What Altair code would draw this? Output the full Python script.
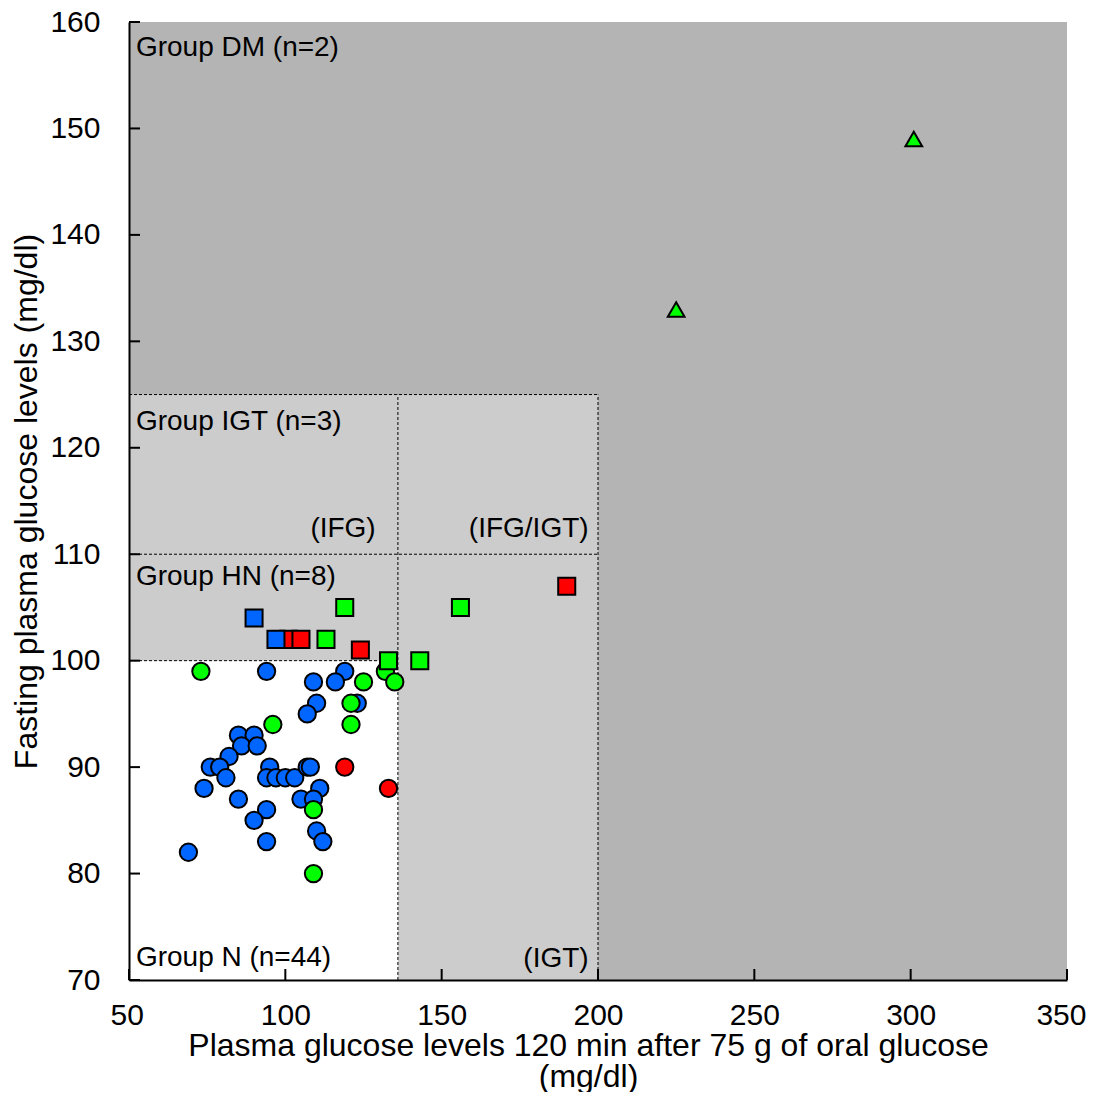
import altair as alt
import pandas as pd

# ---------------- data ----------------
# Group N (circles)
blue_circle_x = [94, 85, 90, 86, 91, 82, 76, 79, 81, 74, 85, 94, 90, 94, 69, 95, 94, 97, 100, 103,
                 107, 108, 111, 105, 109, 110, 112, 119, 109, 116, 110, 107, 123]
blue_circle_y = [99, 93, 93, 92, 92, 91, 90, 90, 89, 88, 87, 86, 85, 83, 82, 90, 89, 89, 89, 89,
                 90, 90, 88, 87, 87, 84, 83, 99, 98, 98, 96, 95, 96]
red_circle_x = [119, 133]
red_circle_y = [90, 88]
green_circle_x = [73, 96, 125, 121, 121, 132, 135, 109, 109]
green_circle_y = [99, 94, 98, 96, 94, 99, 98, 86, 80]

# Groups HN / IGT (squares)
square_x = [101, 90, 97, 105, 113, 119, 124, 133, 143, 156, 190]
square_y = [102, 104, 102, 102, 102, 105, 101, 100, 100, 105, 107]
square_c = ["red", "blue", "blue", "red", "green", "green", "red", "green", "green", "green", "red"]

# Group DM (triangles)
tri_x = [225, 301]
tri_y = [133, 149]
tri_c = ["green", "green"]

# background regions
region_x = [50, 50, 50]
region_x2 = [350, 200, 136]
region_y = [70, 70, 70]
region_y2 = [160, 125, 100]
region_name = ["dm", "igt", "n"]

# dashed boundaries
seg_x = [50, 50, 50, 136, 200]
seg_x2 = [200, 200, 136, 136, 200]
seg_y = [125, 110, 100, 70, 70]
seg_y2 = [125, 110, 100, 125, 125]

# region labels
left_labels = ["Group DM (n=2)", "Group IGT (n=3)", "Group HN (n=8)", "Group N (n=44)"]
left_label_x = [52.2, 52.2, 52.2, 52.2]
left_label_y = [157.6, 122.4, 107.9, 72.1]
right_labels = ["(IFG)", "(IFG/IGT)", "(IGT)"]
right_label_x = [128.9, 197.0, 197.0]
right_label_y = [112.4, 112.4, 72.0]

x_ticks = [50, 100, 150, 200, 250, 300, 350]
y_ticks = [70, 80, 90, 100, 110, 120, 130, 140, 150, 160]

# ---------------- layout ----------------
FONT = "Liberation Sans"
W, H = 938, 958
X_DOM = [50, 350]
Y_DOM = [70, 160]
TICK_PX = 11  # inward tick length in pixels

# ---------------- tables ----------------
pts = pd.concat([
    pd.DataFrame({"x": blue_circle_x, "y": blue_circle_y, "c": "blue", "s": "circle"}),
    pd.DataFrame({"x": red_circle_x, "y": red_circle_y, "c": "red", "s": "circle"}),
    pd.DataFrame({"x": green_circle_x, "y": green_circle_y, "c": "green", "s": "circle"}),
    pd.DataFrame({"x": square_x, "y": square_y, "c": square_c, "s": "square"}),
    pd.DataFrame({"x": tri_x, "y": tri_y, "c": tri_c, "s": "triangle"}),
], ignore_index=True)
pts["o"] = range(len(pts))

regions = pd.DataFrame({"x": region_x, "x2": region_x2, "y": region_y, "y2": region_y2, "r": region_name})
segs = pd.DataFrame({"x": seg_x, "x2": seg_x2, "y": seg_y, "y2": seg_y2})
llab = pd.DataFrame({"x": left_label_x, "y": left_label_y, "t": left_labels})
rlab = pd.DataFrame({"x": right_label_x, "y": right_label_y, "t": right_labels})

# tick segments: start on the axis, run inward by TICK_PX pixels (converted to data units)
x_tick_len = TICK_PX * (X_DOM[1] - X_DOM[0]) / W
y_tick_len = TICK_PX * (Y_DOM[1] - Y_DOM[0]) / H
yt = pd.DataFrame({"x": X_DOM[0], "x2": X_DOM[0] + x_tick_len, "y": y_ticks, "y2": y_ticks})
xt = pd.DataFrame({"x": x_ticks, "x2": x_ticks, "y": Y_DOM[0], "y2": Y_DOM[0] + y_tick_len})
ticks = pd.concat([yt, xt], ignore_index=True)

xs = alt.Scale(domain=X_DOM, nice=False, zero=False)
ys = alt.Scale(domain=Y_DOM, nice=False, zero=False)

x_axis = alt.Axis(values=x_ticks, format="d",
                  title=["Plasma glucose levels 120 min after 75 g of oral glucose", "(mg/dl)"],
                  ticks=False, tickSize=0, grid=False, domainColor="black", domainWidth=2,
                  labelFontSize=30, labelPadding=20, labelFlush=True, labelFlushOffset=19,
                  labelOverlap=False, labelFont=FONT, labelColor="black",
                  titleFont=FONT, titleFontSize=32, titleFontWeight="normal", titleColor="black",
                  titlePadding=0, titleLineHeight=31, titleX=459, zindex=1)
y_axis = alt.Axis(values=y_ticks, format="d",
                  title="Fasting plasma glucose levels (mg/dl)",
                  ticks=False, tickSize=0, grid=False, domainColor="black", domainWidth=2,
                  labelFontSize=30, labelPadding=29, labelOverlap=False,
                  labelFont=FONT, labelColor="black",
                  titleFont=FONT, titleFontSize=32, titleFontWeight="normal", titleColor="black",
                  titlePadding=6, zindex=1)

X = lambda f: alt.X(f, type="quantitative", scale=xs, axis=x_axis)
Y = lambda f: alt.Y(f, type="quantitative", scale=ys, axis=y_axis)

bg = alt.Chart(regions).mark_rect(strokeWidth=0).encode(
    x=X("x"), x2="x2", y=Y("y"), y2="y2",
    color=alt.Color("r:N", scale=alt.Scale(domain=["dm", "igt", "n"],
                                           range=["#b4b4b4", "#cccccc", "#ffffff"]), legend=None),
)

dashed = alt.Chart(segs).mark_rule(color="black", strokeWidth=1, strokeDash=[3, 2]).encode(
    x=X("x"), x2="x2", y=Y("y"), y2="y2"
)

tick_marks = alt.Chart(ticks).mark_rule(color="black", strokeWidth=2).encode(
    x=X("x"), x2="x2", y=Y("y"), y2="y2"
)

ltext = alt.Chart(llab).mark_text(align="left", baseline="middle", font=FONT, fontSize=28,
                                  color="black").encode(x=X("x"), y=Y("y"), text="t:N")
rtext = alt.Chart(rlab).mark_text(align="right", baseline="middle", font=FONT, fontSize=28,
                                  color="black").encode(x=X("x"), y=Y("y"), text="t:N")

points = alt.Chart(pts).mark_point(filled=True, opacity=1, stroke="black", strokeWidth=2).encode(
    x=X("x"), y=Y("y"),
    color=alt.Color("c:N", scale=alt.Scale(domain=["blue", "green", "red"],
                                           range=["#0066ff", "#00ff00", "#ff0000"]), legend=None),
    shape=alt.Shape("s:N", scale=alt.Scale(domain=["circle", "square", "triangle"],
                                           range=["circle", "square", "triangle-up"]), legend=None),
    size=alt.Size("s:N", scale=alt.Scale(domain=["circle", "square", "triangle"],
                                         range=[300, 280, 420]), legend=None),
    order=alt.Order("o:Q"),
)

chart = alt.layer(bg, dashed, tick_marks, ltext, rtext, points).resolve_scale(
    color="independent"
).properties(
    width=W, height=H,
    autosize=alt.AutoSizeParams(type="none"),
    padding={"left": 121, "top": 14, "right": 21, "bottom": 112},
    background="white",
).configure_view(stroke=None)

chart.save("out.html", embed_options={"renderer": "svg", "actions": False})
